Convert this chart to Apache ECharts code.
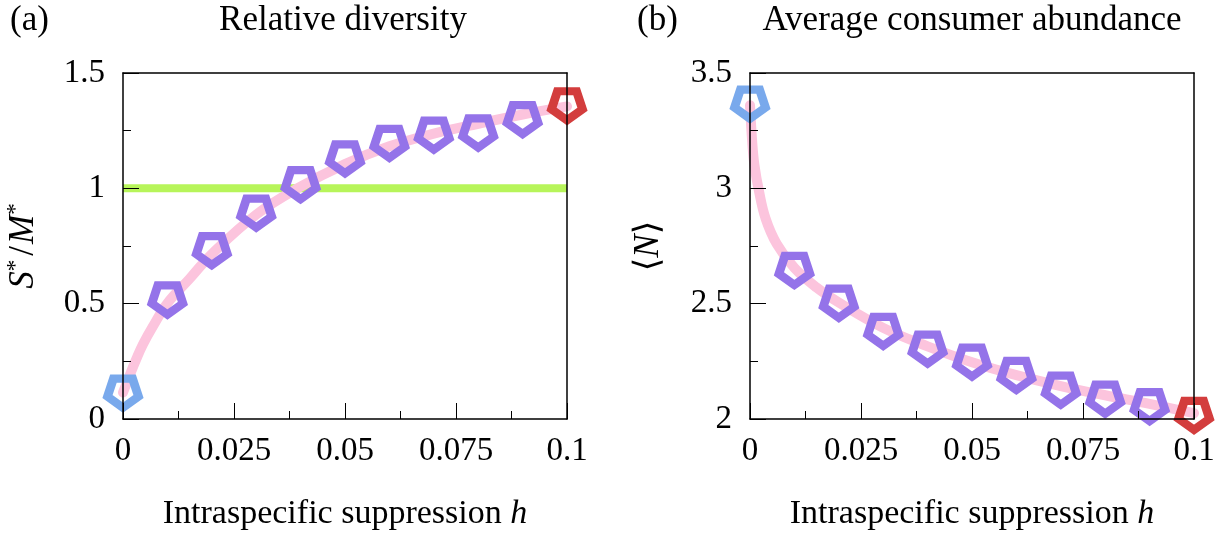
<!DOCTYPE html>
<html>
<head>
<meta charset="utf-8">
<script src="https://cdn.jsdelivr.net/npm/echarts@6/dist/echarts.min.js"></script>
<style>
html,body{margin:0;padding:0;background:#fff;}
#chart{width:1223px;height:536px;}
</style>
</head>
<body>
<div id="chart"></div>
<script>
// ---------- data ----------
const hMarkers = [0, 0.01, 0.02, 0.03, 0.04, 0.05, 0.06, 0.07, 0.08, 0.09, 0.1];
const diversityMarkers = [0.112, 0.516, 0.730, 0.893, 1.016, 1.128, 1.195, 1.231, 1.240, 1.298, 1.358];
const abundanceMarkers = [3.365, 2.644, 2.502, 2.380, 2.303, 2.247, 2.189, 2.125, 2.086, 2.054, 2.016];

const hDiversityCurve = [0, 0.0015, 0.003, 0.0045, 0.00675, 0.01, 0.015, 0.02, 0.03, 0.04, 0.05, 0.06, 0.07, 0.08, 0.09, 0.1];
const diversityCurve  = [0.115, 0.189, 0.26, 0.324, 0.402, 0.502, 0.608, 0.715, 0.886, 1.007, 1.105, 1.182, 1.237, 1.28, 1.32, 1.355];

const hAbundanceCurve = [0, 0.0005, 0.001, 0.002, 0.0035, 0.006, 0.01, 0.015, 0.02, 0.03, 0.04, 0.05, 0.06, 0.07, 0.08, 0.09, 0.1];
const abundanceCurve  = [3.36, 3.2, 3.1, 2.99, 2.87, 2.76, 2.655, 2.57, 2.505, 2.395, 2.315, 2.246, 2.19, 2.143, 2.103, 2.066, 2.025];

const referenceLevel = 1;

const xTickLabels = ['0', '0.025', '0.05', '0.075', '0.1'];
const leftYTickLabels = ['0', '0.5', '1', '1.5'];
const rightYTickLabels = ['2', '2.5', '3', '3.5'];

// ---------- styles ----------
const FONT = "'Liberation Serif', 'DejaVu Serif', serif";
const PINK = '#fcc4dd';
const GREEN = '#b7f55a';
const PURPLE = '#9473e9';
const BLUE = '#79a9ec';
const RED = '#d33d3d';
const PENTAGON = 'path://M0,1L-0.951,0.309L-0.588,-0.809L0.588,-0.809L0.951,0.309Z';

const zip = (xs, ys) => xs.map((x, i) => [x, ys[i]]);
const markerData = (ys) => hMarkers.map((h, i) => ({
  value: [h, ys[i]],
  itemStyle: { borderColor: i === 0 ? BLUE : (i === hMarkers.length - 1 ? RED : PURPLE) }
}));

const fmt = (list) => (v) => {
  const s = String(+(+v).toFixed(4));
  return list.includes(s) ? s : '';
};

const grids = [
  { left: 123, top: 73, width: 444, height: 351 },
  { left: 750, top: 73, width: 444, height: 351 }
];

function bottomAxis(gi) {
  return {
    type: 'value', gridIndex: gi, position: 'bottom', min: 0, max: 0.1, interval: 0.025, z: 10,
    axisLine: { show: true, onZero: false, lineStyle: { color: '#000', width: 1.5 } },
    axisTick: { show: true, inside: true, length: 16, lineStyle: { color: '#000', width: 1 } },
    minorTick: { show: true, splitNumber: 2, length: 8, lineStyle: { color: '#000', width: 1 } },
    splitLine: { show: false },
    axisLabel: { show: true, margin: 16, color: '#000', fontFamily: FONT, fontSize: 33, formatter: fmt(xTickLabels) },
    name: '{n|Intraspecific suppression }{i|h}',
    nameLocation: 'middle', nameGap: 78,
    nameTextStyle: {
      rich: {
        n: { fontFamily: FONT, fontSize: 34, color: '#000' },
        i: { fontFamily: FONT, fontSize: 34, fontStyle: 'italic', color: '#000' }
      }
    }
  };
}
function topAxis(gi) {
  return {
    type: 'value', gridIndex: gi, position: 'top', min: 0, max: 0.1, z: 10,
    axisLine: { show: true, onZero: false, lineStyle: { color: '#000', width: 1.5 } },
    axisTick: { show: false }, axisLabel: { show: false }, splitLine: { show: false }
  };
}
function leftAxis(gi, min, max, labels, name, nameGap, rich) {
  return {
    type: 'value', gridIndex: gi, position: 'left', min: min, max: max, interval: 0.5, z: 10,
    axisLine: { show: true, onZero: false, lineStyle: { color: '#000', width: 1.5 } },
    axisTick: { show: true, inside: true, length: 16, lineStyle: { color: '#000', width: 1 } },
    minorTick: { show: true, splitNumber: 2, length: 8, lineStyle: { color: '#000', width: 1 } },
    splitLine: { show: false },
    axisLabel: { show: true, margin: 18, color: '#000', fontFamily: FONT, fontSize: 33, formatter: fmt(labels) },
    name: name, nameLocation: 'middle', nameGap: nameGap, nameRotate: 90,
    nameTextStyle: { rich: rich }
  };
}
function rightAxis(gi, min, max) {
  return {
    type: 'value', gridIndex: gi, position: 'right', min: min, max: max, z: 10,
    axisLine: { show: true, onZero: false, lineStyle: { color: '#000', width: 1.5 } },
    axisTick: { show: false }, axisLabel: { show: false }, splitLine: { show: false }
  };
}

const richS = {
  i: { fontFamily: FONT, fontSize: 35, fontStyle: 'italic', color: '#000' },
  n: { fontFamily: FONT, fontSize: 35, color: '#000', padding: [0, 2, 0, 4] },
  sup: { fontFamily: FONT, fontSize: 23, color: '#000', padding: [0, 0, 16, 0] }
};
const richN = {
  i: { fontFamily: FONT, fontSize: 35, fontStyle: 'italic', color: '#000' },
  n: { fontFamily: "'DejaVu Serif', serif", fontSize: 35, color: '#000' }
};

const markerStyle = { color: 'rgba(0,0,0,0)', borderWidth: 8.5, opacity: 1, borderJoin: 'miter' };

const option = {
  animation: false,
  backgroundColor: '#fff',
  grid: grids,
  xAxis: [bottomAxis(0), topAxis(0), bottomAxis(1), topAxis(1)],
  yAxis: [
    leftAxis(0, 0, 1.5, leftYTickLabels, '{i|S}{sup|*}{n|/}{i|M}{sup|*}', 80, richS),
    rightAxis(0, 0, 1.5),
    leftAxis(1, 2, 3.5, rightYTickLabels, '{n|⟨}{i|N}{n|⟩}', 84, richN),
    rightAxis(1, 2, 3.5)
  ],
  graphic: [
    { type: 'text', left: 10, top: 3, style: { text: '(a)', fontFamily: FONT, fontSize: 35, fill: '#000' } },
    { type: 'text', x: 343, y: 3, style: { text: 'Relative diversity', fontFamily: FONT, fontSize: 35, fill: '#000', textAlign: 'center' } },
    { type: 'text', left: 637, top: 3, style: { text: '(b)', fontFamily: FONT, fontSize: 35, fill: '#000' } },
    { type: 'text', x: 972, y: 3, style: { text: 'Average consumer abundance', fontFamily: FONT, fontSize: 35, fill: '#000', textAlign: 'center' } }
  ],
  series: [
    { type: 'line', xAxisIndex: 0, yAxisIndex: 0, data: [[0, referenceLevel], [0.1, referenceLevel]],
      showSymbol: false, lineStyle: { color: GREEN, width: 8 }, z: 2 },
    { type: 'line', xAxisIndex: 0, yAxisIndex: 0, data: zip(hDiversityCurve, diversityCurve), smooth: 0.4,
      showSymbol: false, lineStyle: { color: PINK, width: 10, cap: 'round' }, z: 3 },
    { type: 'scatter', xAxisIndex: 0, yAxisIndex: 0, data: markerData(diversityMarkers), symbol: PENTAGON,
      symbolSize: [31, 29], itemStyle: markerStyle, clip: false, z: 4 },
    { type: 'line', xAxisIndex: 2, yAxisIndex: 2, data: zip(hAbundanceCurve, abundanceCurve), smooth: 0.4,
      showSymbol: false, lineStyle: { color: PINK, width: 10, cap: 'round' }, z: 3 },
    { type: 'scatter', xAxisIndex: 2, yAxisIndex: 2, data: markerData(abundanceMarkers), symbol: PENTAGON,
      symbolSize: [31, 29], itemStyle: markerStyle, clip: false, z: 4 }
  ]
};

const chart = echarts.init(document.getElementById('chart'), null, { renderer: 'canvas' });
chart.setOption(option);
</script>
</body>
</html>
